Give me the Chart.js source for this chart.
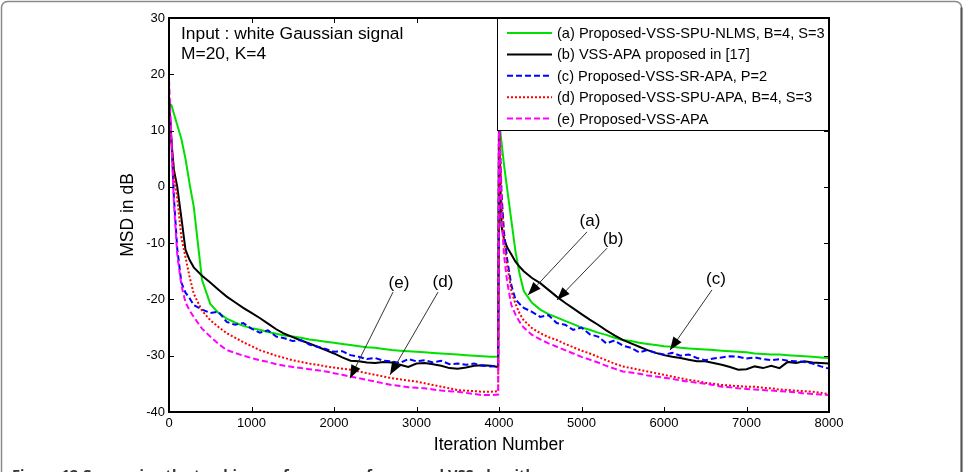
<!DOCTYPE html>
<html><head><meta charset="utf-8">
<script src="https://cdn.jsdelivr.net/npm/chart.js@4/dist/chart.umd.min.js"></script>
<style>html,body{margin:0;padding:0;background:#fff;}canvas{display:block;}</style>
</head><body>
<canvas id="c" width="967" height="472"></canvas>
<script>
// ---------- data ----------
const iterations = [0,30,60,100,150,200,250,300,400,500,600,700,800,900,1000,1100,1200,1300,1400,1500,1600,1700,1800,1900,2000,2100,2200,2300,2400,2500,2600,2700,2800,2900,3000,3100,3200,3300,3400,3500,3600,3700,3800,3900,3990,
4000,4030,4060,4100,4150,4200,4250,4300,4400,4500,4600,4700,4800,4900,5000,5100,5200,5300,5400,5500,5600,5700,5800,5900,6000,6100,6200,6300,6400,6500,6600,6700,6800,6900,7000,7100,7200,7300,7400,7500,7600,7700,7800,7900,8000];

const msdA = [15,14.5,13,11,8.5,5,0.5,-3.5,-16.5,-20.8,-22.4,-23.4,-24.1,-24.7,-25.1,-25.4,-25.8,-26.1,-26.4,-26.6,-26.8,-27.1,-27.3,-27.5,-27.7,-27.9,-28.1,-28.3,-28.5,-28.6,-28.8,-29.0,-29.1,-29.2,-29.3,-29.4,-29.5,-29.6,-29.7,-29.8,-29.9,-30.0,-30.1,-30.2,-30.2,
12,8,4,-0.5,-6,-11.5,-15.5,-18.5,-20.6,-21.8,-22.6,-23.2,-23.8,-24.4,-25.0,-25.4,-25.9,-26.3,-26.8,-27.2,-27.4,-27.7,-27.9,-28.1,-28.3,-28.4,-28.6,-28.7,-28.8,-28.9,-29.0,-29.1,-29.2,-29.3,-29.4,-29.6,-29.7,-29.8,-29.8,-29.9,-30.0,-30.1,-30.2,-30.3,-30.4];

const msdB = [16,8,3,0,-5.5,-11.2,-13,-14.3,-15.8,-17.0,-18.3,-19.5,-20.5,-21.5,-22.4,-23.3,-24.3,-25.3,-26.1,-26.7,-27.3,-27.8,-28.4,-29.0,-29.6,-30.3,-30.9,-31.0,-31.2,-31.3,-31.1,-31.2,-31.6,-32.0,-31.4,-31.3,-31.5,-31.8,-32.2,-32.3,-32.1,-31.8,-31.7,-31.8,-32.0,
10,-7,-9.2,-10.8,-12,-13.3,-14.2,-15.0,-16.2,-17.1,-18.3,-19.5,-20.6,-21.6,-22.6,-23.6,-24.5,-25.5,-26.4,-27.2,-27.8,-28.4,-29.0,-29.5,-29.9,-30.2,-30.4,-30.7,-31.0,-31.0,-31.3,-31.6,-32.0,-32.5,-32.4,-31.9,-32.2,-31.8,-32.2,-31.1,-31.3,-31.0,-31.2,-31.3,-31.4];

const msdC = [15,8,-2,-11,-17,-18.8,-19.8,-21.0,-21.8,-22.4,-22.2,-24.0,-24.5,-24.2,-25.2,-25.9,-25.5,-26.6,-26.9,-27.4,-27.2,-28.0,-28.4,-28.8,-29.3,-29.2,-29.9,-30.2,-30.6,-30.4,-30.9,-31.0,-31.3,-30.6,-31.0,-30.8,-31.2,-30.9,-31.5,-31.4,-31.6,-31.4,-31.8,-31.9,-31.8,
13,-1,-8,-13,-17.5,-20.0,-20.8,-21.5,-22.2,-23.1,-22.8,-24.2,-24.5,-25.4,-25.0,-26.2,-26.6,-27.8,-27.3,-28.2,-28.6,-29.4,-29.0,-29.5,-29.8,-29.5,-30.0,-29.8,-30.4,-30.8,-30.5,-30.3,-30.1,-30.2,-30.5,-30.3,-30.6,-30.8,-30.6,-30.9,-31.0,-31.1,-31.4,-31.9,-32.3];

const msdD = [16,8,2,-2,-9,-12.5,-16,-19,-22,-23.7,-24.9,-26.0,-26.8,-27.6,-28.3,-29.0,-29.5,-30.0,-30.4,-30.8,-31.1,-31.4,-31.6,-31.9,-32.1,-32.3,-32.5,-32.8,-33.1,-33.4,-33.7,-34.0,-34.2,-34.4,-34.6,-34.9,-35.2,-35.5,-35.8,-36.1,-36.2,-36.3,-36.4,-36.4,-36.3,
14,-2,-9.5,-14,-18.5,-20.8,-22.5,-23.7,-25.1,-26.0,-26.7,-27.2,-27.9,-28.5,-29.1,-29.6,-30.2,-30.8,-31.4,-31.9,-32.2,-32.5,-32.8,-33.1,-33.4,-33.7,-34.0,-34.3,-34.5,-34.8,-35.0,-35.2,-35.3,-35.4,-35.5,-35.5,-35.7,-35.8,-36.0,-36.1,-36.2,-36.3,-36.4,-36.6,-36.8];

const msdE = [19,8,-3,-12,-17.5,-20.5,-22,-23.1,-25.2,-26.6,-27.9,-29.0,-29.5,-30.0,-30.4,-30.8,-31.1,-31.5,-31.8,-32.0,-32.2,-32.4,-32.6,-32.8,-33.1,-33.4,-33.7,-34.0,-34.3,-34.6,-34.9,-35.2,-35.4,-35.6,-35.7,-35.8,-36.0,-36.2,-36.3,-36.4,-36.6,-36.8,-37.0,-37.0,-36.9,
14,-5,-12,-17,-21,-22.7,-24,-25,-26.3,-27.1,-27.8,-28.4,-29.0,-29.6,-30.2,-30.7,-31.2,-31.8,-32.3,-32.8,-33.0,-33.2,-33.5,-33.7,-33.9,-34.1,-34.4,-34.6,-34.8,-35.0,-35.2,-35.5,-35.6,-35.8,-35.9,-36.0,-36.1,-36.2,-36.3,-36.4,-36.5,-36.7,-36.8,-36.9,-37.0];

const seriesLabels = ['(a) Proposed-VSS-SPU-NLMS, B=4, S=3','(b) VSS-APA proposed in [17]','(c) Proposed-VSS-SR-APA, P=2','(d) Proposed-VSS-SPU-APA, B=4, S=3','(e) Proposed-VSS-APA'];
const xTickValues = [0,1000,2000,3000,4000,5000,6000,7000,8000];
const yTickValues = [-40,-30,-20,-10,0,10,20,30];
const infoLines = ['Input : white Gaussian signal','M=20, K=4'];
const captionText = 'Figure 12 Comparing the tracking performance of proposed VSS algorithms';

// ---------- chart ----------
const FONT = "'Liberation Sans', Arial, sans-serif";
const toPts = vals => iterations.map((x, i) => ({x: x, y: vals[i]}));

const callouts = [
  {text:'(e)', at:[2788,-17.2], from:[2715,-18.7], to:[2194,-34.0]},
  {text:'(d)', at:[3321,-16.9], from:[3261,-18.7], to:[2679,-33.4]},
  {text:'(a)', at:[5103,-6.2],  from:[5067,-8.0],  to:[4352,-19.2]},
  {text:'(b)', at:[5382,-9.3],  from:[5309,-10.9], to:[4703,-20.1]},
  {text:'(c)', at:[6630,-16.5], from:[6582,-18.3], to:[6073,-29.0]}
];

const styles = [
  {color:'#00e000', dash:[], order:4},
  {color:'#000000', dash:[], order:3},
  {color:'#0000ff', dash:[6,3], order:2},
  {color:'#ff0000', dash:[2,2], order:1},
  {color:'#ff00ff', dash:[6,3], order:0}
];
const allSeries = [msdA, msdB, msdC, msdD, msdE];

const decor = {
  id: 'decor',
  beforeDraw(chart) {
    const c = chart.ctx;
    c.save();
    c.fillStyle = '#fff';
    c.fillRect(0, 0, chart.width, chart.height);
    // page frame
    c.strokeStyle = '#8a8a8a';
    c.lineWidth = 1.5;
    c.beginPath();
    const l = 1.5, t = 1.5, r = 961.5, b = 520, rad = 6;
    c.moveTo(l, b); c.lineTo(l, t + rad); c.arcTo(l, t, l + rad, t, rad);
    c.lineTo(r - rad, t); c.arcTo(r, t, r, t + rad, rad); c.lineTo(r, b);
    c.stroke();
    c.strokeStyle = '#555';
    c.lineWidth = 2;
    c.beginPath(); c.moveTo(r, t + rad); c.lineTo(r, b); c.stroke();
    c.restore();
  },
  afterDatasetsDraw(chart) {
    const c = chart.ctx, a = chart.chartArea;
    const xs = chart.scales.x, ys = chart.scales.y;
    c.save();
    // axes box
    c.strokeStyle = '#000'; c.lineWidth = 2; c.setLineDash([]);
    c.strokeRect(a.left, a.top, a.right - a.left, a.bottom - a.top);
    // inward ticks
    c.lineWidth = 1;
    const tl = 5;
    xTickValues.forEach(v => {
      const px = Math.round(xs.getPixelForValue(v)) + 0.5;
      c.beginPath(); c.moveTo(px, a.bottom); c.lineTo(px, a.bottom - tl);
      c.moveTo(px, a.top); c.lineTo(px, a.top + tl); c.stroke();
    });
    yTickValues.forEach(v => {
      const py = Math.round(ys.getPixelForValue(v)) + 0.5;
      c.beginPath(); c.moveTo(a.left, py); c.lineTo(a.left + tl, py);
      c.moveTo(a.right, py); c.lineTo(a.right - tl, py); c.stroke();
    });
    // info text
    c.fillStyle = '#000';
    c.font = '17.4px ' + FONT;
    c.textBaseline = 'alphabetic'; c.textAlign = 'left';
    infoLines.forEach((s, i) => c.fillText(s, a.left + 12, a.top + 21 + i * 19.5));
    // callouts
    callouts.forEach(co => {
      const fx = xs.getPixelForValue(co.from[0]), fy = ys.getPixelForValue(co.from[1]);
      const tx = xs.getPixelForValue(co.to[0]), ty = ys.getPixelForValue(co.to[1]);
      c.strokeStyle = '#333'; c.lineWidth = 1;
      c.beginPath(); c.moveTo(fx, fy); c.lineTo(tx, ty); c.stroke();
      const ang = Math.atan2(ty - fy, tx - fx), L = 13, W = 5;
      c.fillStyle = '#000';
      c.beginPath();
      c.moveTo(tx, ty);
      c.lineTo(tx - L * Math.cos(ang) + W * Math.sin(ang), ty - L * Math.sin(ang) - W * Math.cos(ang));
      c.lineTo(tx - L * Math.cos(ang) - W * Math.sin(ang), ty - L * Math.sin(ang) + W * Math.cos(ang));
      c.closePath(); c.fill();
      c.font = '17px ' + FONT; c.textAlign = 'center'; c.textBaseline = 'middle';
      c.fillText(co.text, xs.getPixelForValue(co.at[0]), ys.getPixelForValue(co.at[1]));
    });
    // legend
    const lx = a.right - 332, ly = a.top, lw = 332, lh = 113;
    c.fillStyle = '#fff'; c.fillRect(lx, ly, lw, lh);
    c.strokeStyle = '#000'; c.lineWidth = 1;
    c.strokeRect(lx + 0.5, ly + 0.5, lw - 1, lh - 1);
    c.font = '14.6px ' + FONT; c.textAlign = 'left'; c.textBaseline = 'middle';
    seriesLabels.forEach((s, i) => {
      const y = ly + 15 + i * 21.4;
      c.strokeStyle = styles[i].color; c.lineWidth = 2; c.setLineDash(styles[i].dash);
      c.beginPath(); c.moveTo(lx + 10, y); c.lineTo(lx + 55, y); c.stroke();
      c.setLineDash([]);
      c.fillStyle = '#000';
      c.fillText(s, lx + 60, y + 1);
    });
    // caption
    c.fillStyle = '#333';
    let fs = 14;
    c.font = 'bold ' + fs + "px 'Open Sans', 'Noto Sans', sans-serif";
    fs = fs * 545 / c.measureText(captionText).width;
    c.font = 'bold ' + fs.toFixed(2) + "px 'Open Sans', 'Noto Sans', sans-serif";
    c.textAlign = 'left'; c.textBaseline = 'alphabetic';
    c.fillText(captionText, 12, 480);
    c.restore();
  }
};

new Chart(document.getElementById('c'), {
  type: 'line',
  data: {
    datasets: allSeries.map((vals, i) => ({
      label: seriesLabels[i],
      data: toPts(vals),
      borderColor: styles[i].color,
      borderDash: styles[i].dash,
      borderWidth: 2,
      order: styles[i].order,
      pointRadius: 0,
      tension: 0,
      fill: false
    }))
  },
  options: {
    responsive: false,
    animation: false,
    events: [],
    layout: {padding: {top: 18, right: 138, bottom: 0, left: 0}},
    plugins: {legend: {display: false}, tooltip: {enabled: false}},
    scales: {
      x: {
        type: 'linear', min: 0, max: 8000,
        afterBuildTicks: s => { s.ticks = xTickValues.map(v => ({value: v})); },
        ticks: {color: '#000', font: {family: FONT, size: 13}, padding: 4, maxRotation: 0, autoSkip: false, callback: v => String(v)},
        grid: {display: false, drawTicks: false},
        border: {display: false},
        title: {display: true, text: 'Iteration Number', color: '#000', font: {family: FONT, size: 17.5}, padding: {top: 0, bottom: 16}},
        afterFit: s => { s.height = 60; }
      },
      y: {
        type: 'linear', min: -40, max: 30,
        afterBuildTicks: s => { s.ticks = yTickValues.map(v => ({value: v})); },
        ticks: {color: '#000', font: {family: FONT, size: 13}, padding: 4, autoSkip: false, callback: v => String(v)},
        grid: {display: false, drawTicks: false},
        border: {display: false},
        title: {display: true, text: 'MSD in dB', color: '#000', font: {family: FONT, size: 17.5}, padding: {top: 118, bottom: 0}},
        afterFit: s => { s.width = 169; }
      }
    }
  },
  plugins: [decor]
});
</script>
</body></html>
